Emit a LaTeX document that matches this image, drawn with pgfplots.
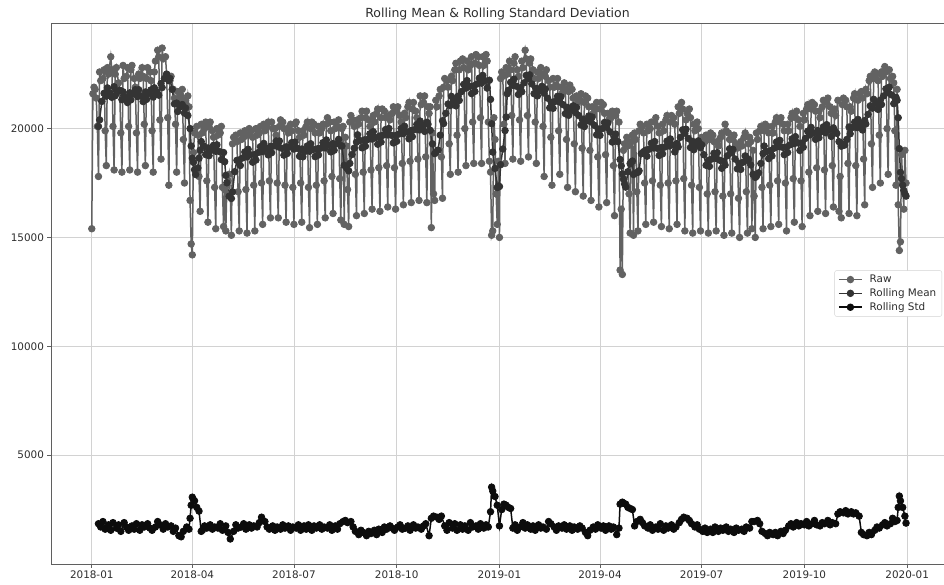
\documentclass[border=0pt]{standalone}
\usepackage{fontspec}
\setmainfont{DejaVu Sans}
\usepackage{pgfplots}
\pgfplotsset{compat=1.18}
\definecolor{rawc}{RGB}{98,98,98}
\definecolor{meanc}{RGB}{52,52,52}
\definecolor{stdc}{RGB}{12,12,12}
\definecolor{gridc}{RGB}{210,210,210}
\definecolor{spinec}{RGB}{95,95,95}
\definecolor{textc}{RGB}{45,45,45}
\begin{document}
\begin{tikzpicture}
\useasboundingbox (-51pt,-20pt) rectangle (893pt,564pt);
\begin{axis}[
  at={(0,0)}, anchor=south west,
  scale only axis, width=893pt, height=541pt,
  xmin=-36.5, xmax=763, ymin=0, ymax=24850,
  xtick={0,90,181,273,365,455,546,638,730},
  xticklabels={2018-01,2018-04,2018-07,2018-10,2019-01,2019-04,2019-07,2019-10,2020-01},
  ytick={5000,10000,15000,20000},
  scaled y ticks=false,
  /pgf/number format/assume math mode=true,
  /pgf/number format/1000 sep={},
  tick label style={font=\fontsize{10.4}{12}\selectfont, color=textc},
  grid=major, major grid style={gridc, line width=0.8pt},
  axis line style={spinec, line width=0.8pt},
  tick style={spinec, line width=0.8pt}, major tick length=3.5pt,
  tick align=outside, xtick pos=bottom, ytick pos=left,
  every axis title shift=0pt,
  title={Rolling Mean \& Rolling Standard Deviation},
  title style={font=\fontsize{12.5}{14}\selectfont, color=textc, at={(0.5,1)}, anchor=base, yshift=5.5pt},
  legend style={at={(1,0.5)}, anchor=east, xshift=-2pt, draw=gridc, rounded corners=2pt, fill=white,
    font=\fontsize{10.4}{12}\selectfont, text=textc, inner xsep=3.5pt, inner ysep=2.5pt, row sep=0.5pt,
    /tikz/every odd column/.append style={column sep=5pt}},
  legend cell align=left,
  legend image code/.code={\draw[mark repeat=2,mark phase=2,#1] plot coordinates {(0pt,0pt)(11.5pt,0pt)(23pt,0pt)};},
]
\addplot[rawc, line width=1.5pt, mark=*, mark size=3.3pt, mark options={solid, fill=rawc, draw=rawc, line width=0.8pt}] coordinates {
(0,15400)(1,21600)(2,21900)(3,21800)(4,21400)(5,20100)(6,17800)
(7,22600)(8,22200)(10,22300)(11,22700)(12,19900)(13,18300)
(14,22800)(15,22500)(17,23300)(18,22700)(19,20100)(20,18100)
(21,22500)(22,22800)(24,22100)(25,21700)(26,19800)(27,18000)
(28,22900)(29,22300)(31,22400)(32,22800)(33,20100)(34,18100)
(35,22700)(36,22900)(38,22300)(39,21900)(40,19800)(41,18000)
(42,22500)(43,22300)(45,22800)(46,22400)(47,20200)(48,18300)
(49,22300)(50,22800)(52,22600)(53,22200)(54,19900)(55,18000)
(56,22600)(57,23100)(59,23600)(60,23300)(61,20400)(62,18600)
(63,23700)(64,23200)(66,23300)(67,22500)(68,20500)(69,17400)
(70,22200)(71,22400)(73,21800)(74,21400)(75,20200)(76,18000)
(77,21700)(78,21300)(80,21500)(81,21800)(82,19500)(83,17500)
(84,21300)(85,21000)(86,21500)(87,21000)(88,16700)(89,14700)(90,14200)
(91,18900)(92,19800)(94,20100)(95,19700)(96,17800)(97,16200)
(98,20200)(99,19800)(101,20000)(102,20300)(103,17600)(104,15700)
(105,20100)(106,20300)(108,19900)(109,19600)(110,17300)(111,15400)
(112,20000)(113,19700)(115,19800)(116,20100)(117,17300)(118,15500)
(119,17200)(120,15300)(121,17400)(122,17600)(123,17900)(124,17000)(125,15100)
(126,19300)(127,19600)(129,19700)(130,19400)(131,17100)(132,15300)
(133,19800)(134,19500)(136,19600)(137,19900)(138,17200)(139,15200)
(140,19700)(141,20000)(143,19900)(144,19600)(145,17400)(146,15300)
(147,20000)(148,19700)(150,19800)(151,20100)(152,17500)(153,15600)
(154,20200)(155,19900)(157,20100)(158,20300)(159,17600)(160,15900)
(161,20300)(162,20000)(164,20000)(165,19700)(166,17500)(167,15900)
(168,20100)(169,20400)(171,20300)(172,20000)(173,17400)(174,15700)
(175,20000)(176,19800)(178,20200)(179,19900)(180,17300)(181,15600)
(182,20200)(183,20300)(185,19900)(186,19600)(187,17500)(188,15700)
(189,19900)(190,19700)(192,20100)(193,20300)(194,17300)(195,15450)
(196,20000)(197,20300)(199,20200)(200,19800)(201,17400)(202,15600)
(203,20100)(204,19800)(206,20000)(207,20200)(208,17600)(209,15900)
(210,20200)(211,20500)(213,20300)(214,19900)(215,17800)(216,16100)
(217,20300)(218,20000)(220,20100)(221,20400)(222,17700)(223,15800)
(224,20000)(225,20100)(226,15600)(227,19600)(228,19200)(229,17200)(230,15500)
(231,20300)(232,20600)(234,20400)(235,20100)(236,17900)(237,16000)
(238,20400)(239,20200)(241,20500)(242,20800)(243,18000)(244,16100)
(245,20500)(246,20800)(248,20400)(249,20100)(250,18100)(251,16300)
(252,20600)(253,20300)(255,20700)(256,20900)(257,18200)(258,16200)
(259,20500)(260,20900)(262,20800)(263,20500)(264,18300)(265,16400)
(266,20600)(267,20400)(269,20700)(270,21000)(271,18200)(272,16300)
(273,20800)(274,21000)(276,20600)(277,20300)(278,18400)(279,16500)
(280,20700)(281,20500)(283,21000)(284,21200)(285,18500)(286,16600)
(287,20900)(288,21200)(290,20800)(291,20500)(292,18600)(293,16700)
(294,21500)(295,21100)(297,21200)(298,21500)(299,18700)(300,16600)
(301,21000)(302,20700)(303,21000)(304,15450)(305,19800)(306,17000)(307,16700)
(308,21300)(309,21000)(311,21500)(312,21800)(313,18700)(314,16800)
(315,21900)(316,22300)(318,22200)(319,21900)(320,19300)(321,17900)
(322,22400)(323,22200)(325,22700)(326,23000)(327,19700)(328,18000)
(329,22700)(330,23100)(332,23200)(333,22800)(334,20000)(335,18300)
(336,23100)(337,22700)(339,22900)(340,23300)(341,20300)(342,18400)
(343,23000)(344,23400)(346,23300)(347,22900)(348,20500)(349,18400)
(350,23300)(351,22900)(353,23400)(354,23100)(355,20300)(356,18500)
(357,18000)(358,15100)(359,15300)(360,20500)(361,19500)(362,17000)(363,15600)
(364,18500)(365,15000)(366,22300)(367,22600)(368,22400)(369,20200)(370,18400)
(371,22800)(372,22500)(374,23100)(375,22700)(376,20600)(377,18600)
(378,23000)(379,23300)(381,22700)(382,22400)(383,20400)(384,18500)
(385,23100)(386,22800)(388,23600)(389,23200)(390,20600)(391,18700)
(392,23000)(393,23200)(395,22700)(396,22300)(397,20300)(398,18400)
(399,22600)(400,22300)(402,22800)(403,22500)(404,20100)(405,17800)
(406,22400)(407,22700)(409,22200)(410,21900)(411,19600)(412,17400)
(413,22300)(414,21900)(416,22000)(417,22300)(418,19900)(419,17900)
(420,21900)(421,21600)(423,22100)(424,21800)(425,19500)(426,17300)
(427,21700)(428,22000)(430,21800)(431,21400)(432,19300)(433,17100)
(434,21500)(435,21200)(437,21300)(438,21600)(439,19100)(440,16900)
(441,21200)(442,21500)(444,21400)(445,21000)(446,19000)(447,16700)
(448,21000)(449,20700)(451,20900)(452,21200)(453,18700)(454,16400)
(455,20900)(456,21200)(458,21100)(459,20700)(460,18800)(461,16600)
(462,20700)(463,20400)(465,20500)(466,20800)(467,18300)(468,16000)
(469,20600)(470,20800)(472,20300)(473,13500)(474,16300)(475,13300)
(476,19000)(477,19300)(479,19600)(480,19200)(481,17000)(482,15200)
(483,19400)(484,19700)(485,15100)(486,19800)(487,19500)(488,17100)(489,15300)
(490,19900)(491,20200)(493,20100)(494,19800)(495,17500)(496,15600)
(497,20200)(498,19900)(500,20000)(501,20300)(502,17600)(503,15700)
(504,20300)(505,20500)(507,20100)(508,19800)(509,17400)(510,15500)
(511,20200)(512,19900)(514,20400)(515,20600)(516,17500)(517,15400)
(518,20300)(519,20600)(521,20500)(522,20200)(523,17600)(524,15600)
(525,21000)(526,20700)(528,21200)(529,20900)(530,17700)(531,15300)
(532,20400)(533,20700)(535,20900)(536,20500)(537,17400)(538,15200)
(539,20200)(540,19900)(542,20300)(543,20000)(544,17300)(545,15300)
(546,19600)(547,19300)(549,19400)(550,19700)(551,17000)(552,15200)
(553,19500)(554,19800)(556,19700)(557,19400)(558,17100)(559,15300)
(560,19400)(561,19200)(563,19600)(564,19800)(565,16900)(566,15100)
(567,20200)(568,19900)(570,19800)(571,19500)(572,17000)(573,15200)
(574,19500)(575,19700)(577,19300)(578,19100)(579,16800)(580,15000)
(581,19400)(582,19200)(584,19600)(585,19800)(586,17100)(587,15200)
(588,19300)(589,19600)(590,19400)(591,15400)(592,19000)(593,16900)(594,15000)
(595,19800)(596,19500)(598,19900)(599,20100)(600,17300)(601,15400)
(602,19900)(603,20200)(605,20100)(606,19800)(607,17400)(608,15500)
(609,20100)(610,19800)(612,20300)(613,20500)(614,17600)(615,15600)
(616,20300)(617,20500)(619,20200)(620,19900)(621,17500)(622,15300)
(623,20200)(624,19900)(626,20500)(627,20700)(628,17700)(629,15700)
(630,20500)(631,20800)(633,20400)(634,20100)(635,17600)(636,15500)
(637,20700)(638,20400)(640,20900)(641,21100)(642,18000)(643,16000)
(644,20900)(645,21200)(647,21100)(648,20800)(649,18200)(650,16200)
(651,20800)(652,20500)(654,21000)(655,21300)(656,18100)(657,16100)
(658,21200)(659,21400)(661,21000)(662,20700)(663,18300)(664,16400)
(665,20900)(666,20600)(668,21300)(669,16200)(670,17800)(671,15900)
(672,21100)(673,21400)(675,21300)(676,21000)(677,18400)(678,16100)
(679,21000)(680,20800)(682,21400)(683,21600)(684,18300)(685,16000)
(686,21300)(687,21600)(689,21700)(690,21400)(691,18600)(692,16500)
(693,21800)(694,21600)(696,22200)(697,22400)(698,19300)(699,17300)
(700,22300)(701,22600)(703,22500)(704,22200)(705,19700)(706,17500)
(707,22600)(708,22400)(710,22850)(711,22600)(712,20000)(713,17900)
(714,22700)(715,22300)(717,22400)(718,22100)(719,19900)(720,17400)
(721,21800)(722,16500)(723,14400)(724,14800)(725,18800)(726,17500)(727,16300)
(728,19000)(729,17500)
};
\addlegendentry{Raw}
\addplot[meanc, line width=1.5pt, mark=*, mark size=3.3pt, mark options={solid, fill=meanc, draw=meanc, line width=0.8pt}] coordinates {
(6,20100)(7,20400)(9,21250)(11,21620)(13,21490)(14,21870)(16,21650)(18,21435)(20,21920)
(21,21510)(23,21700)(25,21765)(27,21330)(28,21690)(30,21450)(32,21195)(34,21640)
(35,21320)(37,21600)(39,21785)(41,21470)(42,21785)(44,21500)(46,21240)(48,21680)
(49,21340)(51,21600)(53,21775)(55,21450)(56,21875)(58,21700)(60,21535)(62,22070)
(63,21885)(65,22300)(67,22500)(69,22200)(70,22300)(72,21800)(74,21135)(76,21170)
(77,20785)(79,21000)(81,21105)(83,20710)(84,20950)(86,20600)(88,20000)(89,19200)(90,18640)
(91,18450)(92,18110)(93,17890)(95,18190)(96,18640)(97,19010)
(98,19405)(100,19200)(102,18805)(104,19110)(105,18755)(107,19000)(109,19230)(111,18960)
(112,19255)(114,18950)(116,18575)(118,18900)(119,18480)(120,17850)(121,17510)(123,16890)(125,16790)
(126,17090)(128,18020)(130,18540)(132,18560)(133,18305)(135,18650)(137,18925)(139,18700)
(140,19050)(142,18800)(144,18455)(146,18810)(147,18555)(149,18900)(151,19170)(153,18940)
(154,19320)(156,19100)(158,18790)(160,19180)(161,18890)(163,19200)(165,19430)(167,19160)
(168,19430)(170,19100)(172,18780)(174,19160)(175,18855)(177,19150)(179,19355)(181,19060)
(182,19380)(184,19100)(186,18730)(188,19060)(189,18705)(191,18950)(193,19205)(195,18960)
(196,19305)(198,19050)(200,18710)(202,19070)(203,18785)(205,19100)(207,19355)(209,19110)
(210,19480)(212,19250)(214,18930)(216,19310)(217,19005)(219,19300)(221,19505)(223,19210)
(224,19200)(226,18310)(228,18200)(230,18060)(231,18400)(233,18810)(235,19100)(237,19380)
(238,19715)(240,19450)(242,19115)(244,19480)(245,19190)(247,19500)(249,19760)(251,19520)
(252,19860)(254,19600)(256,19280)(258,19660)(259,19380)(261,19700)(263,19955)(265,19710)
(266,20005)(268,19700)(270,19340)(272,19680)(273,19415)(275,19750)(277,20010)(279,19770)
(280,20110)(282,19850)(284,19530)(286,19910)(287,19630)(289,19950)(291,20195)(293,19940)
(294,20345)(296,20150)(298,19870)(300,20290)(301,20200)(303,19920)(305,19300)(307,18850)
(308,18900)(310,19010)(312,19700)(314,20360)(315,20230)(317,20700)(319,21130)(321,21060)
(322,21480)(324,21300)(326,21045)(328,21490)(329,21295)(331,21700)(333,22030)(335,21860)
(336,22205)(338,21950)(340,21605)(342,21960)(343,21705)(345,22050)(347,22320)(349,22090)
(350,22445)(352,22200)(354,21860)(356,22220)(357,21340)(358,20220)(359,18920)(361,18170)(363,17290)
(364,17360)(365,17340)(366,18340)(368,19060)(370,19910)(371,20530)(372,21600)(373,21760)(375,22125)(377,21990)
(378,22270)(380,21950)(382,21565)(384,21880)(385,21690)(387,22100)(389,22445)(391,22290)
(392,22470)(394,22050)(396,21600)(398,21850)(399,21500)(401,21750)(403,21940)(405,21630)
(406,21815)(408,21400)(410,20955)(412,21210)(413,20930)(415,21250)(417,21485)(419,21220)
(420,21460)(422,21100)(424,20685)(426,20970)(427,20610)(429,20850)(431,21045)(433,20740)
(434,20970)(436,20600)(438,20165)(440,20430)(441,20090)(443,20350)(445,20580)(447,20310)
(448,20530)(450,20150)(452,19715)(454,19980)(455,19690)(457,20000)(459,20280)(461,20060)
(462,20255)(464,19850)(466,19380)(468,19610)(469,19750)(471,19400)(473,18580)(474,18290)(475,17910)
(476,17680)(477,17460)(478,17310)(480,18020)(482,18390)(483,18450)(484,18510)(485,17890)(487,17960)(489,17990)
(490,18060)(492,18850)(494,18940)(496,19010)(497,18730)(499,19050)(501,19330)(503,19110)
(504,19405)(506,19100)(508,18765)(510,19130)(511,18840)(513,19150)(515,19425)(517,19200)
(518,19525)(520,19250)(522,18930)(524,19310)(525,19155)(527,19600)(529,19945)(531,19790)
(532,19970)(534,19550)(536,19130)(538,19410)(539,19030)(541,19250)(543,19435)(545,19120)
(546,19260)(548,18800)(550,18315)(552,18530)(553,18265)(555,18600)(557,18865)(559,18630)
(560,18890)(562,18550)(564,18175)(566,18500)(567,18325)(569,18750)(571,19070)(573,18890)
(574,19045)(576,18600)(578,18150)(580,18400)(581,18125)(583,18450)(585,18745)(587,18540)
(588,18600)(590,18330)(592,17900)(594,17760)(595,17800)(597,17970)(599,18400)(601,18850)
(602,19200)(604,18950)(606,18620)(608,18990)(609,18745)(611,19100)(613,19385)(615,19170)
(616,19460)(618,19150)(620,18800)(622,19150)(623,18900)(625,19250)(627,19530)(629,19310)
(630,19630)(632,19350)(634,18995)(636,19340)(637,19145)(639,19550)(641,19880)(643,19710)
(644,20055)(646,19800)(648,19505)(650,19910)(651,19580)(653,19850)(655,20080)(657,19810)
(658,20180)(660,19950)(662,19640)(664,20030)(665,19900)(667,19780)(669,19400)(671,19190)
(672,19300)(674,19240)(676,19500)(678,20070)(679,19760)(681,20050)(683,20295)(685,20040)
(686,20420)(688,20200)(690,19935)(692,20370)(693,20210)(695,20650)(697,21045)(699,20940)
(700,21345)(702,21150)(704,20880)(706,21310)(707,21105)(709,21500)(711,21825)(713,21650)
(714,21900)(716,21550)(718,21145)(720,21440)(721,21300)(722,20500)(723,19080)(724,17990)
(725,17700)(726,17400)(727,17160)(728,17000)(729,16900)
};
\addlegendentry{Rolling Mean}
\addplot[stdc, line width=1.5pt, mark=*, mark size=3.3pt, mark options={solid, fill=stdc, draw=stdc, line width=0.8pt}] coordinates {
(6,1850)(8,1700)(10,1950)(12,1600)(15,1800)(17,1550)(19,1900)(22,1650)(24,1800)(26,1500)
(29,1900)(31,1700)(33,1550)(36,1750)(38,1600)(40,1850)(43,1550)(45,1800)(47,1700)
(50,1850)(52,1650)(54,1550)(57,1700)(59,1950)(61,1800)(64,1600)(66,1850)(68,1700)
(71,1750)(73,1500)(75,1650)(78,1300)(80,1250)(82,1500)(85,1700)(87,1600)(88,2100)(89,2700)
(90,3070)(91,2950)(92,2900)(94,2600)(96,2430)(98,1500)(99,1550)(101,1750)(103,1650)
(106,1800)(108,1600)(110,1700)(113,1650)(115,1850)(117,1550)(120,1750)(122,1450)(124,1150)
(127,1500)(129,1800)(131,1650)(134,1700)(136,1850)(138,1600)(141,1800)(143,1650)(145,1750)
(148,1700)(150,1900)(152,2150)(155,1950)(157,1700)(159,1600)(162,1750)(164,1550)(166,1700)
(169,1600)(171,1800)(173,1650)(176,1750)(178,1550)(180,1700)(183,1650)(185,1800)(187,1550)
(190,1750)(192,1600)(194,1800)(197,1550)(199,1750)(201,1650)(204,1800)(206,1600)(208,1700)
(211,1650)(213,1800)(215,1550)(218,1750)(220,1600)(222,1850)(225,1950)(227,2000)(229,1900)
(232,1950)(234,1700)(236,1500)(239,1350)(241,1550)(243,1450)(246,1300)(248,1500)(250,1400)
(253,1550)(255,1350)(257,1600)(260,1450)(262,1700)(264,1600)(267,1750)(269,1650)(271,1550)
(274,1700)(276,1800)(278,1600)(281,1650)(283,1750)(285,1550)(288,1800)(290,1650)(292,1700)
(295,1600)(297,1750)(299,1850)(302,1300)(304,2100)(306,2200)(309,2150)(311,2050)(313,2200)
(316,1750)(318,1550)(320,1900)(323,1650)(325,1850)(327,1550)(330,1800)(332,1600)(334,1750)
(337,1550)(339,1900)(341,1700)(344,1750)(346,1600)(348,1850)(351,1650)(353,1800)(355,1700)
(357,2400)(358,3530)(359,3350)(361,3100)(363,2700)(365,1750)(367,2500)(369,2750)(371,2700)
(373,2600)(375,2550)(377,1650)(379,1800)(381,1550)(383,1700)(386,1900)(388,1650)(390,1800)
(393,1600)(395,1750)(397,1550)(400,1800)(402,1650)(404,1700)(407,1600)(409,1950)(411,1850)
(414,1700)(416,1550)(418,1750)(421,1650)(423,1800)(425,1600)(428,1750)(430,1550)(432,1700)
(435,1600)(437,1750)(439,1650)(442,1450)(444,1300)(446,1550)(449,1700)(451,1600)(453,1800)
(456,1650)(458,1750)(460,1550)(463,1750)(465,1600)(467,1700)(470,1350)(472,1650)(473,2750)
(475,2840)(476,2800)(478,2750)(480,2600)(482,2550)(484,2500)(486,1750)(488,1950)
(491,2050)(493,1900)(495,1750)(498,1650)(500,1800)(502,1550)(505,1700)(507,1600)(509,1850)
(512,1550)(514,1750)(516,1650)(519,1800)(521,1600)(523,1700)(526,1900)(528,2050)(530,2150)
(533,2100)(535,2000)(537,1850)(540,1700)(542,1800)(544,1600)(547,1500)(549,1650)(551,1450)
(554,1600)(556,1450)(558,1700)(561,1500)(563,1650)(565,1550)(568,1700)(570,1500)(572,1600)
(575,1450)(577,1650)(579,1550)(582,1600)(584,1500)(586,1700)(589,1650)(591,1950)(593,1950)
(596,2000)(598,1850)(600,1500)(603,1400)(605,1300)(607,1450)(610,1350)(612,1450)(614,1300)
(617,1500)(619,1400)(621,1550)(624,1750)(626,1850)(628,1700)(631,1900)(633,1750)(635,1850)
(638,1800)(640,1950)(642,1750)(645,1850)(647,2000)(649,1800)(652,1750)(654,1900)(656,1850)
(659,2000)(661,1800)(663,1900)(666,1850)(668,2300)(670,2400)(673,2350)(675,2450)(677,2300)
(680,2400)(682,2300)(684,2350)(687,2200)(689,1450)(691,1350)(694,1300)(696,1450)(698,1350)
(701,1550)(703,1700)(705,1650)(708,1800)(710,1900)(712,1750)(715,1850)(717,2100)(719,1950)
(721,2000)(722,2600)(723,3120)(724,2900)(726,2600)(728,2200)(729,1880)
};
\addlegendentry{Rolling Std}
\end{axis}
\end{tikzpicture}
\end{document}
